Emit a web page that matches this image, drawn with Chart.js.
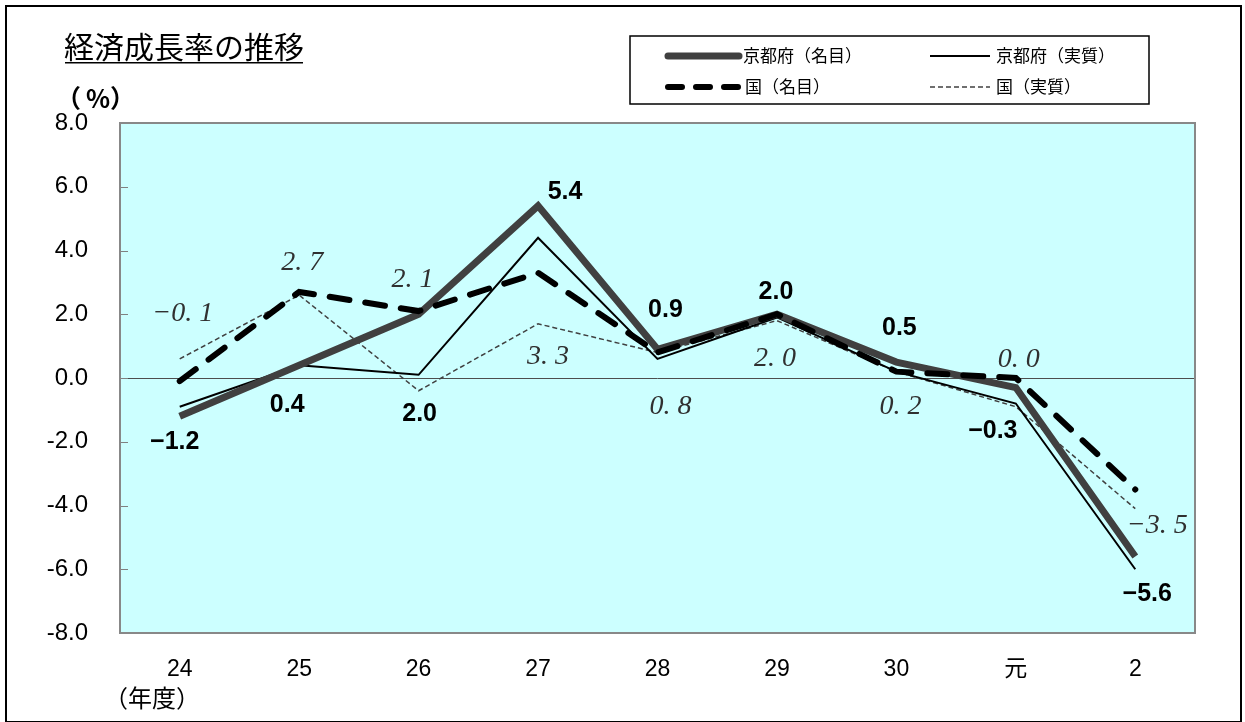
<!DOCTYPE html>
<html>
<head>
<meta charset="utf-8">
<script src="https://cdn.jsdelivr.net/npm/chart.js@4.4.1/dist/chart.umd.min.js"></script>
<style>
  html, body { margin: 0; padding: 0; background: #fff; }
  #wrap { width: 1245px; height: 722px; position: relative; }
</style>
</head>
<body>
<div id="wrap"><canvas id="growthChart" width="1245" height="722"></canvas></div>
<script>
// 年度
const years = ['24', '25', '26', '27', '28', '29', '30', '元', '2'];

// 経済成長率 (%)
const kyotoNominal = [-1.2, 0.4, 2.0, 5.4, 0.9, 2.0, 0.5, -0.3, -5.6];
const kyotoReal = [-0.9, 0.4, 0.1, 4.4, 0.6, 1.9, 0.2, -0.8, -6.0];
const nationNominal = [-0.1, 2.7, 2.1, 3.3, 0.8, 2.0, 0.2, 0.0, -3.5];
const nationReal = [0.6, 2.6, -0.4, 1.7, 0.8, 1.8, 0.2, -0.9, -4.1];

const yTicks = [-8, -6, -4, -2, 0, 2, 4, 6, 8];

// label nudges (px) from each point
const kyotoLabelShift = [[-5, 26], [-12, 40], [1, 100], [27, -14], [8, -39], [-1, -22], [3, -34], [-23, 44], [12, 38]];
const nationLabelShift = [[3, -68], [3, -29], [-6, -31], [10, 84], [13, 54], [-2, 44], [4, 35], [3, -18], [22, 36]];

const JP = "'Noto Sans CJK JP', sans-serif";

function fmtItalic(v) {
    return (v < 0 ? '\u2212' : '') + Math.abs(v).toFixed(1).replace('.', '. ');
}
function fmtBold(v) {
    return (v < 0 ? '\u2212' : '') + Math.abs(v).toFixed(1);
}

const framePlugin = {
    id: 'frame',
    beforeDraw(chart) {
        const ctx = chart.ctx;
        const a = chart.chartArea;
        ctx.save();
        ctx.fillStyle = '#fff';
        ctx.fillRect(0, 0, chart.width, chart.height);
        // outer frame
        ctx.strokeStyle = '#000';
        ctx.lineWidth = 2;
        ctx.strokeRect(6, 6, 1235, 716);
        // plot area
        ctx.fillStyle = '#ccffff';
        ctx.fillRect(a.left, a.top, a.right - a.left, a.bottom - a.top);
        ctx.restore();
    },
    beforeDatasetsDraw(chart) {
        const ctx = chart.ctx;
        const a = chart.chartArea;
        const y = chart.scales.y;
        ctx.save();
        // zero line
        ctx.strokeStyle = '#4d4d4d';
        ctx.lineWidth = 1;
        ctx.beginPath();
        ctx.moveTo(a.left, Math.round(y.getPixelForValue(0)) + 0.5);
        ctx.lineTo(a.right, Math.round(y.getPixelForValue(0)) + 0.5);
        ctx.stroke();
        // inside tick marks
        ctx.strokeStyle = '#808080';
        yTicks.forEach(t => {
            const py = Math.round(y.getPixelForValue(t)) + 0.5;
            ctx.beginPath();
            ctx.moveTo(a.left, py);
            ctx.lineTo(a.left + 8, py);
            ctx.stroke();
        });
        // plot border
        ctx.strokeStyle = '#888';
        ctx.lineWidth = 2;
        ctx.strokeRect(a.left, a.top, a.right - a.left, a.bottom - a.top);
        ctx.restore();
    },
    afterDraw(chart) {
        const ctx = chart.ctx;
        ctx.save();
        // title
        ctx.fillStyle = '#000';
        ctx.font = '30px ' + JP;
        ctx.textBaseline = 'middle';
        ctx.textAlign = 'left';
        ctx.fillText('経済成長率の推移', 64, 47);
        const tw = ctx.measureText('経済成長率の推移').width;
        ctx.fillRect(65, 62, tw - 2, 1.5);
        // unit labels
        ctx.font = "bold 25px " + JP;
        ctx.fillText('（', 56, 98);
        ctx.fillText('%', 86, 98);
        ctx.fillText('）', 110, 98);
        ctx.font = '24px ' + JP;
        ctx.fillText('（年度）', 104, 698);

        // legend box
        ctx.strokeStyle = '#000';
        ctx.lineWidth = 1.5;
        ctx.strokeRect(630, 36, 519, 68);
        ctx.lineCap = 'round';
        ctx.strokeStyle = '#404040';
        ctx.lineWidth = 7;
        ctx.beginPath(); ctx.moveTo(668, 56); ctx.lineTo(739, 56); ctx.stroke();
        ctx.strokeStyle = '#000';
        ctx.lineCap = 'butt';
        ctx.lineWidth = 2;
        ctx.beginPath(); ctx.moveTo(930, 56); ctx.lineTo(990, 56); ctx.stroke();
        ctx.lineCap = 'round';
        ctx.lineWidth = 6;
        ctx.setLineDash([14, 14]);
        ctx.beginPath(); ctx.moveTo(668, 87); ctx.lineTo(742, 87); ctx.stroke();
        ctx.setLineDash([5, 3]);
        ctx.lineCap = 'butt';
        ctx.lineWidth = 1.5;
        ctx.strokeStyle = '#404040';
        ctx.beginPath(); ctx.moveTo(930, 87); ctx.lineTo(990, 87); ctx.stroke();
        ctx.setLineDash([]);
        ctx.fillStyle = '#000';
        ctx.font = '17px ' + JP;
        ctx.fillText('京都府（名目）', 743, 56);
        ctx.fillText('京都府（実質）', 996, 56);
        ctx.fillText('国（名目）', 745, 87);
        ctx.fillText('国（実質）', 996, 87);

        // value labels
        ctx.textAlign = 'center';
        const mk = chart.getDatasetMeta(1).data;
        ctx.font = "bold 25px 'Liberation Sans Narrow', 'Liberation Sans', sans-serif";
        ctx.fillStyle = '#000';
        kyotoNominal.forEach((v, i) => {
            const p = mk[i];
            ctx.fillText(fmtBold(v), p.x + kyotoLabelShift[i][0], p.y + kyotoLabelShift[i][1]);
        });
        const mn = chart.getDatasetMeta(0).data;
        ctx.font = "italic 28px 'Liberation Serif', serif";
        ctx.fillStyle = '#303030';
        nationNominal.forEach((v, i) => {
            const p = mn[i];
            ctx.fillText(fmtItalic(v), p.x + nationLabelShift[i][0], p.y + nationLabelShift[i][1]);
        });
        ctx.restore();
    }
};

new Chart(document.getElementById('growthChart'), {
    type: 'line',
    data: {
        labels: years,
        datasets: [
            {
                label: '国（名目）',
                data: nationNominal,
                borderColor: '#000',
                borderWidth: 6,
                borderDash: [20, 16],
                borderCapStyle: 'round',
                pointRadius: 0,
                tension: 0
            },
            {
                label: '京都府（名目）',
                data: kyotoNominal,
                borderColor: '#404040',
                borderWidth: 7,
                borderJoinStyle: 'miter',
                pointRadius: 0,
                tension: 0
            },
            {
                label: '京都府（実質）',
                data: kyotoReal,
                borderColor: '#000',
                borderWidth: 2,
                pointRadius: 0,
                tension: 0
            },
            {
                label: '国（実質）',
                data: nationReal,
                borderColor: '#404040',
                borderWidth: 1.5,
                borderDash: [5, 3],
                pointRadius: 0,
                tension: 0
            }
        ]
    },
    options: {
        responsive: false,
        animation: false,
        layout: { padding: { top: 123, right: 50, bottom: 39, left: 20 } },
        plugins: {
            legend: { display: false },
            tooltip: { enabled: false },
            title: { display: false }
        },
        scales: {
            x: {
                offset: true,
                grid: { display: false },
                border: { display: false },
                ticks: {
                    color: '#000',
                    padding: 15,
                    font: { family: "'Liberation Sans', 'Noto Sans CJK JP', sans-serif", size: 23 }
                },
                afterFit(scale) { scale.height = 50; }
            },
            y: {
                min: -8,
                max: 8,
                grid: { display: false, drawTicks: false },
                border: { display: false },
                ticks: {
                    stepSize: 2,
                    color: '#000',
                    padding: 32,
                    font: { family: "'Liberation Sans', sans-serif", size: 24 },
                    callback: v => v.toFixed(1)
                },
                afterFit(scale) { scale.width = 100; }
            }
        }
    },
    plugins: [framePlugin]
});
</script>
</body>
</html>
